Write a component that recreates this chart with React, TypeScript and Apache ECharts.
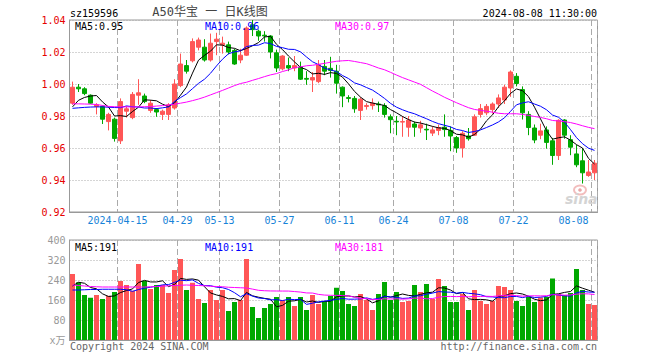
import React, { useEffect, useRef } from "react";
import * as echarts from "echarts";

const dates = [
  "2024-04-01","2024-04-02","2024-04-03","2024-04-08","2024-04-09","2024-04-10","2024-04-11","2024-04-12",
  "2024-04-15","2024-04-16","2024-04-17","2024-04-18","2024-04-19","2024-04-22","2024-04-23","2024-04-24",
  "2024-04-25","2024-04-26","2024-04-29","2024-04-30",
  "2024-05-06","2024-05-07","2024-05-08","2024-05-09","2024-05-10","2024-05-13","2024-05-14","2024-05-15",
  "2024-05-16","2024-05-17","2024-05-20","2024-05-21","2024-05-22","2024-05-23","2024-05-24","2024-05-27",
  "2024-05-28","2024-05-29","2024-05-30","2024-05-31",
  "2024-06-03","2024-06-04","2024-06-05","2024-06-06","2024-06-07","2024-06-11","2024-06-12","2024-06-13",
  "2024-06-14","2024-06-17","2024-06-18","2024-06-19","2024-06-20","2024-06-21","2024-06-24","2024-06-25",
  "2024-06-26","2024-06-27","2024-06-28",
  "2024-07-01","2024-07-02","2024-07-03","2024-07-04","2024-07-05","2024-07-08","2024-07-09","2024-07-10",
  "2024-07-11","2024-07-12","2024-07-15","2024-07-16","2024-07-17","2024-07-18","2024-07-19","2024-07-22",
  "2024-07-23","2024-07-24","2024-07-25","2024-07-26","2024-07-29","2024-07-30","2024-07-31",
  "2024-08-01","2024-08-02","2024-08-05","2024-08-06","2024-08-07","2024-08-08",
];

const opens = [
  0.988, 0.998, 0.997, 0.993, 0.986, 0.986, 0.9765, 0.978, 0.9645, 0.983,
  0.979, 0.993, 0.9925, 0.9835, 0.984, 0.981, 0.981, 0.985, 0.999, 1.0115,
  1.0145, 1.023, 1.023, 1.015, 1.0265, 1.0245, 1.0245, 1.021, 1.015, 1.018,
  1.037, 1.033, 1.0305, 1.03, 1.0195, 1.0095, 1.0115, 1.01, 1.0105, 1.0035,
  1.0025, 1.0015, 1.011, 1.0098, 1.008, 0.998, 0.9915, 0.991, 0.9835, 0.986,
  0.9865, 0.9875, 0.9865, 0.9795, 0.9767, 0.9762, 0.973, 0.975, 0.9725, 0.9717,
  0.9693, 0.971, 0.973, 0.971, 0.9665, 0.96, 0.9675, 0.968, 0.981, 0.982,
  0.984, 0.9875, 0.99, 0.9975, 1.0048, 0.9965, 0.981, 0.9725, 0.968, 0.9713,
  0.9645, 0.9553, 0.9775, 0.9652, 0.9563, 0.952, 0.9428, 0.9445,
];
const closes = [
  0.998, 0.997, 0.994, 0.988, 0.987, 0.978, 0.981, 0.966, 0.989, 0.9845,
  0.9935, 0.9945, 0.989, 0.988, 0.9825, 0.983, 0.987, 1.0, 1.0125, 1.008,
  1.0265, 1.0275, 1.015, 1.0255, 1.028, 1.0255, 1.02, 1.0125, 1.018, 1.035,
  1.034, 1.03, 1.03, 1.02, 1.01, 1.0175, 1.01, 1.0115, 1.003, 1.003,
  1.004, 1.012, 1.008, 1.0085, 1.0005, 0.9925, 0.991, 0.9845, 0.9905, 0.9865,
  0.988, 0.987, 0.981, 0.9777, 0.9763, 0.9765, 0.9775, 0.973, 0.9745, 0.9713,
  0.9713, 0.9728, 0.9715, 0.9675, 0.96, 0.9692, 0.9658, 0.9795, 0.9846, 0.986,
  0.9875, 0.9913, 0.998, 1.0075, 1.0003, 0.982, 0.9728, 0.965, 0.9707, 0.9635,
  0.9553, 0.9773, 0.968, 0.9605, 0.9495, 0.9445, 0.945, 0.9505,
];
const lows = [
  0.987, 0.995, 0.993, 0.9875, 0.981, 0.975, 0.971, 0.964, 0.9625, 0.979,
  0.978, 0.987, 0.988, 0.982, 0.9795, 0.9775, 0.9775, 0.984, 0.998, 1.0065,
  1.0135, 1.021, 1.014, 1.014, 1.018, 1.019, 1.0185, 1.012, 1.013, 1.0175,
  1.03, 1.027, 1.0265, 1.016, 1.0075, 1.0085, 1.008, 1.008, 1.0025, 0.9995,
  0.995, 1.0005, 1.0055, 1.004, 0.994, 0.9855, 0.9885, 0.982, 0.9775, 0.984,
  0.984, 0.9825, 0.979, 0.9692, 0.968, 0.967, 0.967, 0.967, 0.9695, 0.965,
  0.9675, 0.968, 0.967, 0.958, 0.957, 0.954, 0.9646, 0.9675, 0.979, 0.9805,
  0.9815, 0.985, 0.9875, 0.992, 0.9985, 0.9778, 0.968, 0.963, 0.9655, 0.9596,
  0.9495, 0.9525, 0.9658, 0.9555, 0.948, 0.9378, 0.942, 0.94,
];
const highs = [
  1.0015, 1.0, 0.998, 0.9935, 0.988, 0.9865, 0.982, 0.979, 0.991, 0.986,
  0.995, 1.003, 0.994, 0.99, 0.985, 0.984, 0.988, 1.003, 1.019, 1.015,
  1.0285, 1.029, 1.028, 1.0315, 1.032, 1.0296, 1.0265, 1.022, 1.022, 1.036,
  1.04, 1.034, 1.033, 1.0305, 1.0215, 1.018, 1.0165, 1.0175, 1.014, 1.008,
  1.0075, 1.015, 1.015, 1.017, 1.012, 0.9985, 0.993, 0.9925, 0.9917, 0.988,
  0.991, 0.989, 0.988, 0.981, 0.98, 0.98, 0.98, 0.9765, 0.977, 0.9752,
  0.9735, 0.9746, 0.981, 0.9735, 0.9675, 0.9705, 0.9725, 0.981, 0.9875, 0.9875,
  0.9885, 0.9935, 0.9995, 1.0085, 1.0068, 0.9985, 0.983, 0.9747, 0.9752, 0.9735,
  0.9663, 0.978, 0.978, 0.968, 0.962, 0.96, 0.9525, 0.9525,
];
const volumes = [
  264, 231, 180, 169, 180, 164, 177, 192, 236, 220,
  197, 304, 236, 204, 220, 220, 188, 280, 324, 200,
  229, 164, 148, 200, 160, 200, 116, 152, 160, 324,
  132, 88, 128, 144, 172, 160, 172, 136, 172, 120,
  180, 144, 156, 176, 209, 196, 144, 136, 184, 160,
  120, 184, 232, 160, 192, 152, 156, 220, 192, 224,
  164, 244, 216, 152, 152, 184, 120, 200, 156, 144,
  156, 216, 212, 200, 156, 136, 172, 152, 170, 172,
  246, 184, 180, 188, 284, 200, 144, 140,
];

const ma5Head = [0.9857, 0.9898, 0.9916, 0.9925];
const ma10Head = [0.9848, 0.9851, 0.9854, 0.9856, 0.9857, 0.9857, 0.9855, 0.9853, 0.9852];
const ma30Head = [
  0.9876, 0.9876, 0.9875, 0.9874, 0.9872, 0.9866, 0.986, 0.9858, 0.9857, 0.9857,
  0.9857, 0.9857, 0.9858, 0.9859, 0.9862, 0.9865, 0.9869, 0.9874, 0.988, 0.9887,
  0.9896, 0.9906, 0.9918, 0.9932, 0.9946, 0.996, 0.9975, 0.999, 1.0003,
];
const volMa5Head = [216, 231, 227, 210];
const volMa10Head = [200, 200, 201, 202, 202, 203, 203, 203, 203];
const volMa30Head = [
  220, 218, 216, 214, 213, 212, 212, 212, 212, 212,
  212, 212, 212, 213, 214, 215, 217, 218, 219, 220,
  219, 218, 217, 215, 214, 213, 211, 210, 209,
];

const dateTickIdx = [8, 18, 25, 35, 45, 54, 64, 74, 87];
const dateTickLabels = ["2024-04-15", "04-29", "05-13", "05-27", "06-11", "06-24", "07-08", "07-22", "08-08"];

const headerCode = "sz159596";
const headerTitle = "A50华宝 一 日K线图";
const headerTime = "2024-08-08 11:30:00";
const priceMaLabels = ["MA5:0.95", "MA10:0.96", "MA30:0.97"];
const volMaLabels = ["MA5:191", "MA10:191", "MA30:181"];
const footerLeft = "Copyright 2024 SINA.COM";
const footerRight = "http://finance.sina.com.cn";

const MONO = '"DejaVu Sans Mono", "Liberation Mono", monospace';
const UP = "#ff5656";
const DOWN = "#00a800";
const MA_COLORS = ["#000000", "#0000ff", "#ff00ff"];

function movingAvg(values: number[], n: number, head: number[], digits: number) {
  return values.map((_, i) => {
    if (i < n - 1) return head[i];
    let s = 0;
    for (let k = i - n + 1; k <= i; k++) s += values[k];
    return +(s / n).toFixed(digits);
  });
}

function txt(x: number, y: number, text: string, fill: string, font: string, align = "left") {
  return {
    type: "text",
    x,
    y,
    silent: true,
    z: 100,
    style: { text, fill, font, textAlign: align, textVerticalAlign: "middle", align, verticalAlign: "middle" },
  };
}

export default function App() {
  const ref = useRef<HTMLDivElement>(null);
  useEffect(() => {
    document.body.style.margin = "0";
    const chart = echarts.init(ref.current!, null, { renderer: "svg" });
    const ohlc = dates.map((_, i) => [opens[i], closes[i], lows[i], highs[i]]);
    const ma5 = movingAvg(closes, 5, ma5Head, 4);
    const ma10 = movingAvg(closes, 10, ma10Head, 4);
    const ma30 = movingAvg(closes, 30, ma30Head, 4);
    const vma5 = movingAvg(volumes, 5, volMa5Head, 1);
    const vma10 = movingAvg(volumes, 10, volMa10Head, 1);
    const vma30 = movingAvg(volumes, 30, volMa30Head, 1);
    const isTick = (i: number) => dateTickIdx.indexOf(i) >= 0;
    const splitX = { show: true, interval: (i: number) => isTick(i), lineStyle: { color: "#aaa", type: [6, 3], width: 1 } };
    const dotted = { show: true, lineStyle: { color: "#aaa", type: [1, 2], width: 1 } };
    const axisLine = { show: true, lineStyle: { color: "#999" } };
    const maLine = (data: number[], c: string, x: number, y: number) => ({
      type: "line", xAxisIndex: x, yAxisIndex: y, data, symbol: "none", silent: true,
      lineStyle: { color: c, width: 1 }, z: 3,
    });

    const option: any = {
      animation: false,
      backgroundColor: "#ffffff",
      grid: [
        { left: 69.5, top: 20, width: 528, height: 192, show: true, borderColor: "#999", borderWidth: 1, backgroundColor: "transparent" },
        { left: 69.5, top: 240, width: 528, height: 100, show: true, borderColor: "#999", borderWidth: 1, backgroundColor: "transparent" },
      ],
      xAxis: [
        {
          type: "category", gridIndex: 0, data: dates, boundaryGap: true,
          axisLine, axisTick: { show: false },
          axisLabel: {
            interval: (i: number) => isTick(i),
            formatter: (_v: string, i: number) => {
              const k = dateTickIdx.indexOf(i);
              return k >= 0 ? dateTickLabels[k] : "";
            },
            color: "#1783d8", fontSize: 10, fontFamily: MONO, margin: 3,
            padding: [0, 6, 0, 0], alignMaxLabel: "right",
          },
          splitLine: splitX,
        },
        {
          type: "category", gridIndex: 1, data: dates, boundaryGap: true,
          axisLine, axisTick: { show: false }, axisLabel: { show: false },
          splitLine: splitX,
        },
      ],
      yAxis: [
        {
          type: "value", gridIndex: 0, min: 0.92, max: 1.04, interval: 0.02,
          axisLine, axisTick: { show: false },
          axisLabel: { color: "#e60000", fontSize: 10, fontFamily: MONO, margin: 4, formatter: (v: number) => v.toFixed(2) },
          splitLine: dotted,
        },
        {
          type: "value", gridIndex: 1, min: 0, max: 400, interval: 80,
          axisLine, axisTick: { show: false },
          axisLabel: {
            color: "#999", fontSize: 10, fontFamily: MONO + ', "Noto Sans CJK SC"', margin: 4,
            formatter: (v: number) => (v === 0 ? "x万" : String(v)),
          },
          splitLine: dotted,
        },
      ],
      series: [
        {
          type: "candlestick", xAxisIndex: 0, yAxisIndex: 0, data: ohlc, barWidth: 4,
          itemStyle: { color: UP, color0: DOWN, borderColor: UP, borderColor0: DOWN, borderWidth: 1 },
        },
        maLine(ma5, MA_COLORS[0], 0, 0),
        maLine(ma10, MA_COLORS[1], 0, 0),
        maLine(ma30, MA_COLORS[2], 0, 0),
        {
          type: "bar", xAxisIndex: 1, yAxisIndex: 1, barWidth: 5,
          data: volumes.map((v, i) => ({ value: v, itemStyle: { color: closes[i] >= opens[i] ? UP : DOWN } })),
        },
        maLine(vma5, MA_COLORS[0], 1, 1),
        maLine(vma10, MA_COLORS[1], 1, 1),
        maLine(vma30, MA_COLORS[2], 1, 1),
      ],
      graphic: [
        txt(70, 13, headerCode, "#000", `10px ${MONO}`),
        txt(210, 12, headerTitle, "#444", `12px "DejaVu Sans Mono", "Noto Sans CJK SC"`, "center"),
        txt(597, 13, headerTime, "#000", `10px ${MONO}`, "right"),
        txt(75, 26, priceMaLabels[0], MA_COLORS[0], `10px ${MONO}`),
        txt(205, 26, priceMaLabels[1], MA_COLORS[1], `10px ${MONO}`),
        txt(335, 26, priceMaLabels[2], MA_COLORS[2], `10px ${MONO}`),
        txt(75, 247, volMaLabels[0], MA_COLORS[0], `10px ${MONO}`),
        txt(205, 247, volMaLabels[1], MA_COLORS[1], `10px ${MONO}`),
        txt(335, 247, volMaLabels[2], MA_COLORS[2], `10px ${MONO}`),
        txt(70, 346, footerLeft, "#666", `10px ${MONO}`),
        txt(597, 346, footerRight, "#666", `10px ${MONO}`, "right"),
        {
          type: "ellipse", silent: true, z: 1,
          shape: { cx: 580, cy: 190, rx: 6, ry: 4.5 },
          style: { fill: "none", stroke: "#f2bdbd", lineWidth: 2 },
        },
        {
          type: "circle", silent: true, z: 1,
          shape: { cx: 580, cy: 190, r: 1.8 },
          style: { fill: "#e9a7a7" },
        },
        txt(565, 199, "sina", "#d4d4d4", `italic bold 14px "DejaVu Sans"`),
      ],
    };
    chart.setOption(option);
    return () => chart.dispose();
  }, []);
  return <div ref={ref} style={{ width: 660, height: 360 }} />;
}
